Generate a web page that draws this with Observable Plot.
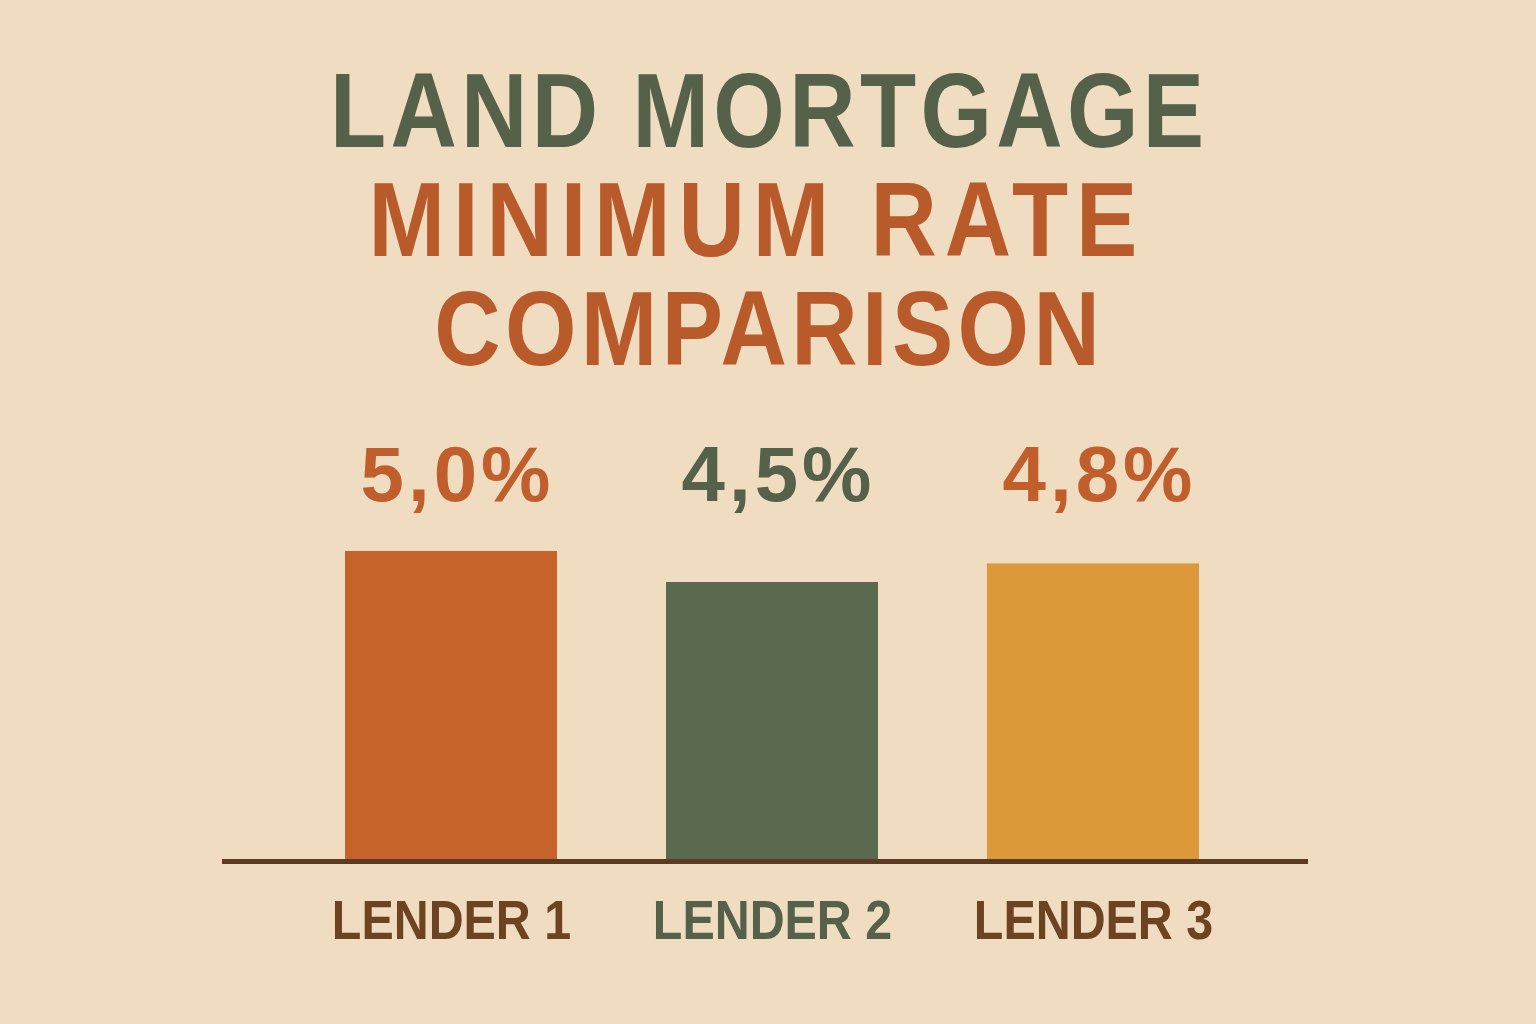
<!DOCTYPE html>
<html>
<head>
<meta charset="utf-8">
<script src="https://cdn.jsdelivr.net/npm/d3@7"></script>
<script src="https://cdn.jsdelivr.net/npm/@observablehq/plot@0.6"></script>
<style>
  html, body { margin: 0; padding: 0; background: #efdcc1; width: 1536px; height: 1024px; overflow: hidden; }
  #title { height: 400px; box-sizing: border-box; padding-top: 56px; text-align: center;
           font-family: "Liberation Sans", Arial, sans-serif; font-weight: bold;
           font-size: 105px; line-height: 109px; letter-spacing: 5px; }
  #title div { padding-left: 5px; transform: scaleX(0.875); transform-origin: 760px 50%; }
  #title div.wide { letter-spacing: 9px; padding-left: 9px; transform: translateX(-14px) scaleX(0.875); }
  .l1 { color: #556149; }
  .l2 { color: #b95a2a; }
  .value-labels text { letter-spacing: 4px; }
</style>
</head>
<body>
<div id="title">
  <div class="l1">LAND MORTGAGE</div>
  <div class="l2 wide">MINIMUM RATE</div>
  <div class="l2">COMPARISON</div>
</div>
<div id="chart"></div>
<script>
const lenders = ["LENDER 1", "LENDER 2", "LENDER 3"];
const rates = [5.0, 4.5, 4.8];
const rateLabels = ["5,0%", "4,5%", "4,8%"];
const barColors = ["#c5632b", "#5a6a4e", "#dc993a"];
const valueColors = ["#c05f2c", "#556149", "#c05f2c"];
const nameColors = ["#6e4322", "#556149", "#6e4322"];

const data = lenders.map((l, i) => ({lender: l, rate: rates[i], label: rateLabels[i], bar: barColors[i], vc: valueColors[i], nc: nameColors[i]}));

const font = '"Liberation Sans", Arial, sans-serif';

const chart = Plot.plot({
  width: 1536,
  height: 624,
  marginTop: 151,
  marginBottom: 163,
  marginLeft: 222,
  marginRight: 228,
  style: {background: "transparent", fontFamily: font, overflow: "visible"},
  x: {domain: lenders, paddingInner: 0.34, paddingOuter: 0.36, align: 0.53, axis: null},
  y: {domain: [0, 5], axis: null},
  marks: [
    Plot.barY(data, {x: "lender", y: "rate", fill: d => d.bar}),
    Plot.ruleY([0], {stroke: "#5c3b20", strokeWidth: 5}),
    Plot.text(data, {x: "lender", frameAnchor: "top", text: "label", fill: d => d.vc,
      fontSize: 78, fontWeight: "bold", lineAnchor: "bottom", dy: -51, dx: 6, className: "value-labels"}),
    Plot.text(data, {x: "lender", y: 0, text: "lender", fill: d => d.nc,
      fontSize: 55, fontWeight: "bold", lineAnchor: "middle", dy: 60, className: "lender-labels"})
  ]
});
document.getElementById("chart").appendChild(chart);
// condense the lender labels horizontally around their anchor
d3.select(chart).selectAll(".lender-labels text").each(function() {
  const t = this.getAttribute("transform") || "";
  this.setAttribute("transform", t + " scale(0.88,1)");
});
</script>
</body>
</html>
